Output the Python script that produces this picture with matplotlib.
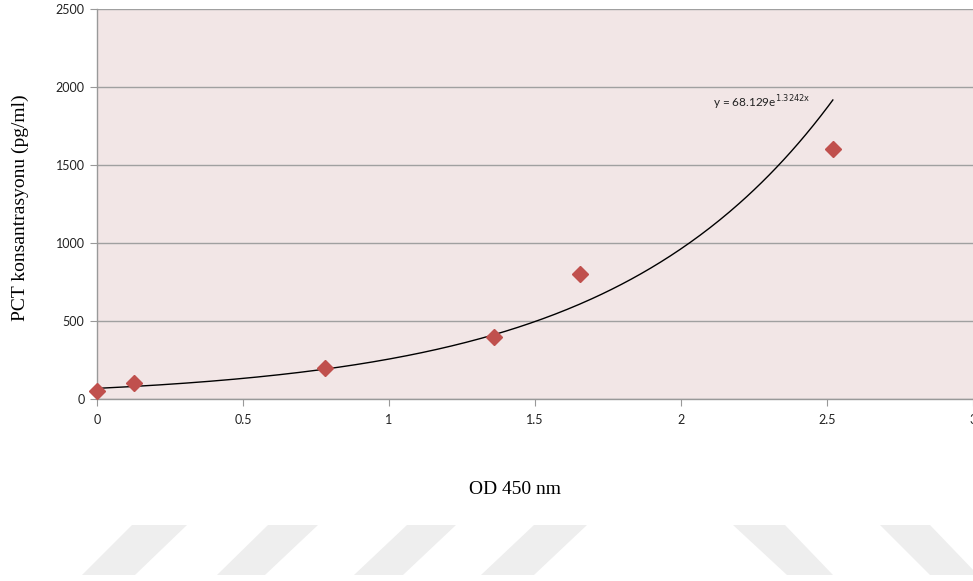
import matplotlib
matplotlib.use("Agg")
import matplotlib.pyplot as plt
from matplotlib.patches import Polygon
import numpy as np

# standard curve: OD readings vs PCT concentration
od_450 = [0.0, 0.125, 0.78, 1.36, 1.655, 2.52]
pct_conc = [50, 100, 200, 400, 800, 1600]

# exponential trendline y = a * exp(b * x)
fit_a = 68.129
fit_b = 1.3242

x_ticks = [0, 0.5, 1, 1.5, 2, 2.5, 3]
x_ticklabels = ['0', '0.5', '1', '1.5', '2', '2.5', '3']
y_ticks = [0, 500, 1000, 1500, 2000, 2500]

W, H = 973, 581
fig = plt.figure(figsize=(W / 100, H / 100), dpi=100)
fig.patch.set_facecolor('white')
ax = fig.add_axes([97 / W, 1 - 399 / H, 876 / W, 390 / H])
ax.set_facecolor('#f2e6e6')

ax.set_xlim(0, 3)
ax.set_ylim(0, 2500)
ax.set_xticks(x_ticks)
ax.set_xticklabels(x_ticklabels)
ax.set_yticks(y_ticks)

ax.yaxis.grid(True, color='#a0a0a0', lw=1)
ax.set_axisbelow(True)
for s in ['top', 'right']:
    ax.spines[s].set_visible(False)
for s in ['left', 'bottom']:
    ax.spines[s].set_color('#999999')
    ax.spines[s].set_linewidth(1)
ax.tick_params(axis='both', direction='out', length=5, color='#999999',
               labelsize=9, labelcolor='#222222')
for lab in ax.get_xticklabels() + ax.get_yticklabels():
    lab.set_family('Lato')
ax.tick_params(axis='x', pad=6)
ax.tick_params(axis='y', pad=4)

# trendline
xs = np.linspace(0, max(od_450), 300)
ax.plot(xs, fit_a * np.exp(fit_b * xs), color='black', lw=1, zorder=3)

# measured points
ax.plot(od_450, pct_conc, linestyle='none', marker='D', markersize=8.5,
        color='#c0504d', zorder=4, clip_on=False)

ax.text(2.11, 1900, r'y = %.3fe$^{\mathrm{%.4fx}}$' % (fit_a, fit_b), fontsize=8.5,
        family='Lato', color='#222222', va='center')

ax.set_xlabel('OD 450 nm', family='Liberation Serif', fontsize=14)
ax.set_ylabel('PCT konsantrasyonu (pg/ml)', family='Liberation Serif', fontsize=14)
ax.xaxis.set_label_coords(0.477, -0.21)
ax.yaxis.set_label_coords(-0.078, 0.49)

# faint stripes along the bottom of the page
stripes = [
    [(82, 575), (132, 525), (187, 525), (135, 575)],
    [(217, 575), (268, 525), (318, 525), (265, 575)],
    [(354, 575), (407, 525), (456, 525), (403, 575)],
    [(481, 575), (534, 525), (587, 525), (534, 575)],
    [(733, 525), (785, 525), (833, 575), (787, 575)],
    [(880, 525), (930, 525), (978, 575), (930, 575)],
]
for pts in stripes:
    verts = [(px / W, 1 - py / H) for px, py in pts]
    fig.patches.append(Polygon(verts, closed=True, transform=fig.transFigure,
                               facecolor='#eeeeee', edgecolor='none'))

fig.savefig('out.png', dpi=100)
